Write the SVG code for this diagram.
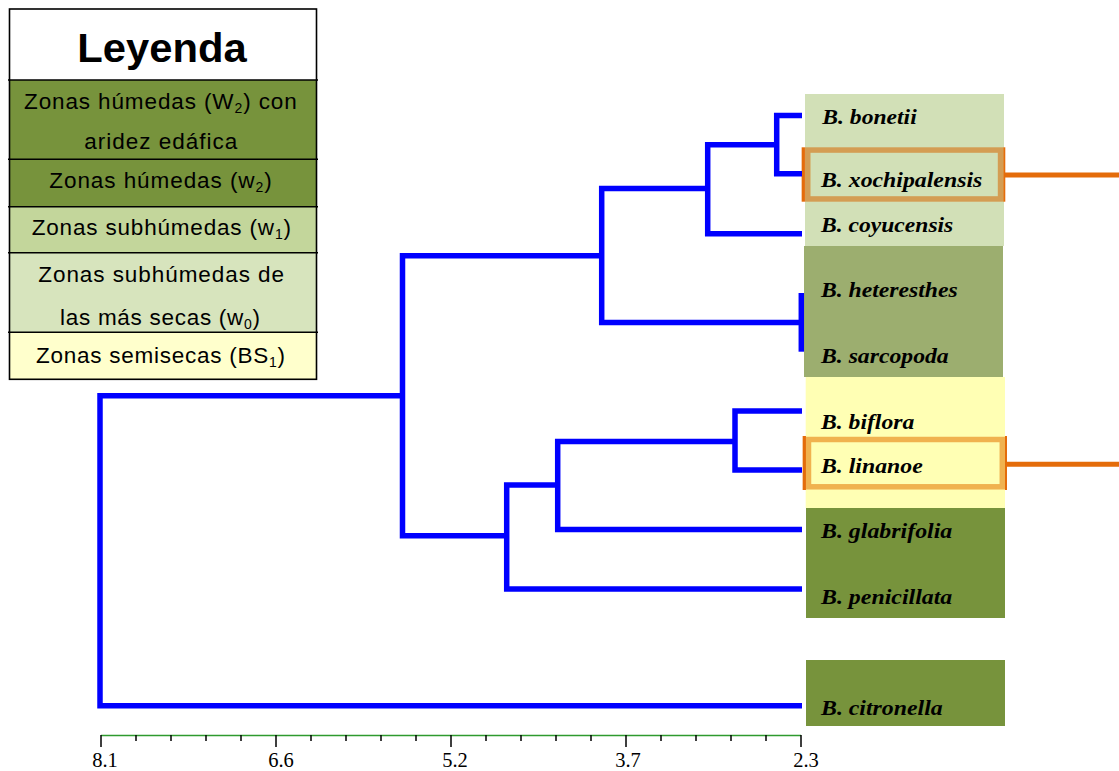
<svg xmlns="http://www.w3.org/2000/svg" width="1119" height="771" viewBox="0 0 1119 771">
  <style>
    .lg { font-family: "Liberation Sans", Arial, sans-serif; font-size: 22.5px; fill: #000; }
    .sub { font-size: 14px; }
    .sp { font-family: "Liberation Serif", "Times New Roman", serif; font-size: 21.5px; font-weight: bold; font-style: italic; fill: #000; }
    .ax { font-family: "Liberation Serif", "Times New Roman", serif; font-size: 20.5px; fill: #000; text-anchor: middle; }
    .br { fill: none; stroke: #0000FF; stroke-width: 5.5; stroke-linejoin: miter; stroke-linecap: butt; }
    .grid { stroke: #000; stroke-width: 1.6; fill: none; }
    .tick { stroke: #000; stroke-width: 1.5; }
    .hl { stroke: #E46C0A; }
  </style>

  <!-- Legend table -->
  <g id="legend">
    <rect x="9.5" y="9" width="307" height="71" fill="#FFFFFF"/>
    <rect x="9.5" y="80" width="307" height="79.3" fill="#77933C"/>
    <rect x="9.5" y="159.3" width="307" height="47.4" fill="#77933C"/>
    <rect x="9.5" y="206.7" width="307" height="46" fill="#C3D69B"/>
    <rect x="9.5" y="252.7" width="307" height="79.6" fill="#D7E4BD"/>
    <rect x="9.5" y="332.3" width="307" height="47" fill="#FFFFCC"/>
    <rect class="grid" x="9.5" y="9" width="307" height="370.3"/>
    <path class="grid" d="M8,80 H318 M8,159.3 H318 M8,206.7 H318 M8,252.7 H318 M8,332.3 H318"/>

    <text x="77.3" y="61.7" textLength="169.4" lengthAdjust="spacingAndGlyphs" font-family="Liberation Sans, Arial, sans-serif" font-size="40" font-weight="bold" fill="#000">Leyenda</text>

    <text class="lg" x="24" y="109.3" textLength="272.7" lengthAdjust="spacing">Zonas húmedas (W<tspan class="sub" dy="4">2</tspan><tspan dy="-4">) con</tspan></text>
    <text class="lg" x="84.3" y="149" textLength="153" lengthAdjust="spacing">aridez edáfica</text>
    <text class="lg" x="49.3" y="188.3" textLength="222.4" lengthAdjust="spacing">Zonas húmedas (w<tspan class="sub" dy="4">2</tspan><tspan dy="-4">)</tspan></text>
    <text class="lg" x="31.7" y="235" textLength="259.3" lengthAdjust="spacing">Zonas subhúmedas (w<tspan class="sub" dy="4">1</tspan><tspan dy="-4">)</tspan></text>
    <text class="lg" x="38.3" y="281.7" textLength="245.7" lengthAdjust="spacing">Zonas subhúmedas de</text>
    <text class="lg" x="60" y="324.5" textLength="200" lengthAdjust="spacing">las más secas (w<tspan class="sub" dy="4">0</tspan><tspan dy="-4">)</tspan></text>
    <text class="lg" x="36" y="363.3" textLength="249" lengthAdjust="spacing">Zonas semisecas (BS<tspan class="sub" dy="4">1</tspan><tspan dy="-4">)</tspan></text>
  </g>

  <!-- Climate-zone background bands behind the leaves -->
  <g id="zones">
    <rect x="805" y="94" width="199" height="152" fill="#D2E0B7"/>
    <rect x="804" y="246" width="199" height="131" fill="#9CAE6F"/>
    <rect x="805.7" y="377" width="199.3" height="131" fill="#FFFFB4"/>
    <rect x="806" y="508" width="199" height="110" fill="#77933C"/>
    <rect x="806" y="660" width="199" height="66" fill="#77933C"/>
  </g>

  <!-- Highlighted taxa -->
  <g id="highlight-xochipalensis">
    <rect x="807.75" y="150.05" width="192.8" height="48.9" fill="none" stroke="#D49D53" stroke-width="5.5"/>
    <line class="hl" x1="803.3" y1="147.3" x2="803.3" y2="201.7" stroke-width="3.3"/>
    <line class="hl" x1="1004.3" y1="147.3" x2="1004.3" y2="201.7" stroke-width="2"/>
    <line class="hl" x1="1004" y1="175" x2="1119" y2="175" stroke-width="5"/>
  </g>
  <g id="highlight-linanoe">
    <rect x="808.5" y="439.5" width="193.8" height="47.3" fill="none" stroke="#F0B24F" stroke-width="5.5"/>
    <line class="hl" x1="804.3" y1="436" x2="804.3" y2="490" stroke-width="3.3"/>
    <line class="hl" x1="1006" y1="436" x2="1006" y2="490" stroke-width="2"/>
    <line class="hl" x1="1006" y1="464.3" x2="1119" y2="464.3" stroke-width="5"/>
  </g>

  <!-- Dendrogram branches -->
  <g id="connectors">
    <path class="br" d="M802,115.5 H776.7 V173.7 H802"/>
    <path class="br" d="M776.7,144.7 H707.7 V233.8 H802"/>
    <path class="br" d="M707.7,188.5 H601.7 V322.5 H802"/>
    <path class="br" d="M801.3,293 V351.7"/>
    <path class="br" d="M601.7,255.8 H402.5 V535.8 H506.7"/>
    <path class="br" d="M802,411 H735 V470 H802"/>
    <path class="br" d="M735,441.5 H557.7 V529.5 H802"/>
    <path class="br" d="M557.7,485 H506.7 V589 H802"/>
    <path class="br" d="M402.5,395.8 H100 V705.8 H802"/>
  </g>

  <!-- Leaf labels -->
  <g id="leaf-bonetii"><text class="sp" x="822.3" y="124.3" textLength="94.4" lengthAdjust="spacingAndGlyphs">B. bonetii</text></g>
  <g id="leaf-xochipalensis"><text class="sp" x="821" y="186.7" textLength="161.3" lengthAdjust="spacingAndGlyphs">B. xochipalensis</text></g>
  <g id="leaf-coyucensis"><text class="sp" x="821" y="231.7" textLength="132.3" lengthAdjust="spacingAndGlyphs">B. coyucensis</text></g>
  <g id="leaf-heteresthes"><text class="sp" x="821" y="296.7" textLength="136.7" lengthAdjust="spacingAndGlyphs">B. heteresthes</text></g>
  <g id="leaf-sarcopoda"><text class="sp" x="821" y="362.7" textLength="127.7" lengthAdjust="spacingAndGlyphs">B. sarcopoda</text></g>
  <g id="leaf-biflora"><text class="sp" x="821" y="428.7" textLength="93.3" lengthAdjust="spacingAndGlyphs">B. biflora</text></g>
  <g id="leaf-linanoe"><text class="sp" x="821" y="473.3" textLength="101.7" lengthAdjust="spacingAndGlyphs">B. linanoe</text></g>
  <g id="leaf-glabrifolia"><text class="sp" x="821" y="538.3" textLength="131.3" lengthAdjust="spacingAndGlyphs">B. glabrifolia</text></g>
  <g id="leaf-penicillata"><text class="sp" x="821" y="604.3" textLength="131.3" lengthAdjust="spacingAndGlyphs">B. penicillata</text></g>
  <g id="leaf-citronella"><text class="sp" x="821" y="715" textLength="121.7" lengthAdjust="spacingAndGlyphs">B. citronella</text></g>

  <!-- Distance axis -->
  <g id="axis">
    <line x1="101" y1="735.5" x2="801" y2="735.5" stroke="#2E9A2E" stroke-width="1.6"/>
    <path class="tick" d="M101,735 V747 M136,735 V741 M171,735 V741 M206,735 V741 M241,735 V741
      M276,735 V747 M311,735 V741 M346,735 V741 M381,735 V741 M416,735 V741
      M451,735 V747 M486,735 V741 M521,735 V741 M556,735 V741 M591,735 V741
      M626,735 V747 M661,735 V741 M696,735 V741 M731,735 V741 M766,735 V741 M801,735 V747"/>
    <text class="ax" x="105" y="767">8.1</text>
    <text class="ax" x="281" y="767">6.6</text>
    <text class="ax" x="455" y="767">5.2</text>
    <text class="ax" x="628" y="767">3.7</text>
    <text class="ax" x="806" y="767">2.3</text>
  </g>
</svg>
